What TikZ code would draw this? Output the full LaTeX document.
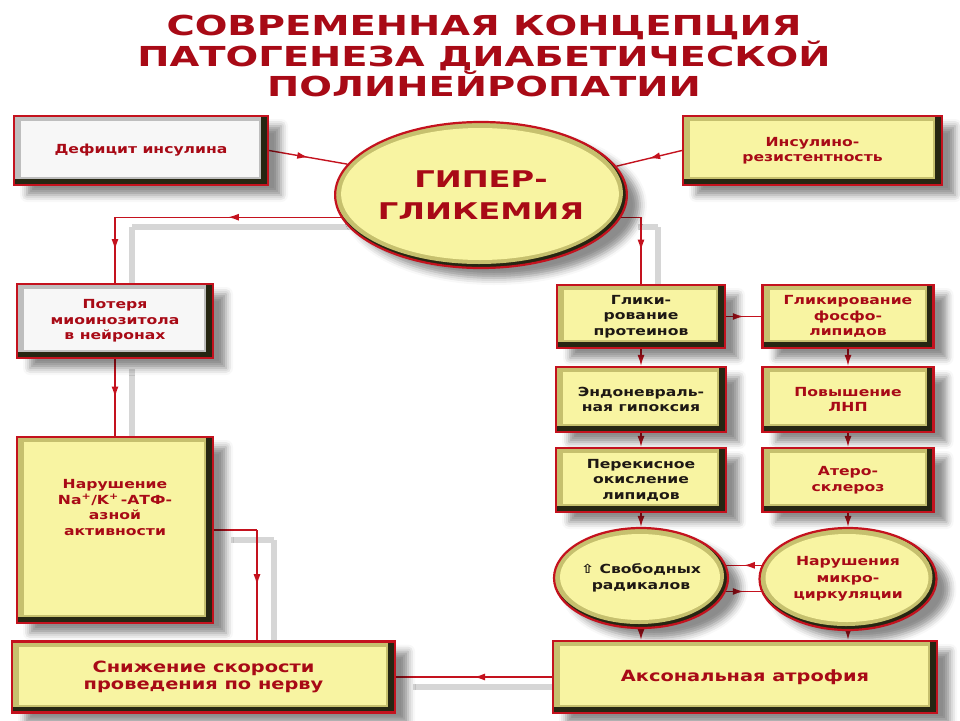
\documentclass[tikz,border=0pt]{standalone}
\usepackage{fontspec}
\newfontfamily\diafont{DejaVu Sans}[FakeStretch=1.25]
\newfontfamily\titlefont{DejaVu Sans}[FakeStretch=1.4]
\usetikzlibrary{calc,shapes.geometric,arrows.meta,decorations.markings,shadows.blur}

\definecolor{diared}{RGB}{196,18,30}
\definecolor{textred}{RGB}{168,10,22}
\definecolor{textdark}{RGB}{30,24,20}
\definecolor{faceyellow}{RGB}{248,244,162}
\definecolor{bevolive}{RGB}{198,192,110}
\definecolor{bevdark}{RGB}{38,38,18}
\definecolor{facewhite}{RGB}{247,247,247}
\definecolor{bevgrey}{RGB}{190,190,190}
\definecolor{linkgrey}{RGB}{214,214,214}

\pgfdeclarelayer{linklayer}
\pgfsetlayers{linklayer,main}

\tikzset{
  bevel/.style 2 args={path picture={
      \fill[bevdark] (path picture bounding box.south west) rectangle (path picture bounding box.north east);
      \fill[#2] (path picture bounding box.north west) rectangle ([xshift=-7pt,yshift=6pt]path picture bounding box.south east);
      \fill[#1] ([xshift=7pt,yshift=-5pt]path picture bounding box.north west) rectangle ([xshift=-9pt,yshift=8pt]path picture bounding box.south east);
    }},
  shade/.style={blur shadow={shadow xshift=13pt,shadow yshift=-10pt,shadow blur radius=7pt,shadow opacity=45}},
  box/.style={rectangle, draw=diared, line width=2.2pt, align=center, inner sep=2pt, shade,
    bevel={faceyellow}{bevolive}, text=textred,
    font=\diafont\bfseries\fontsize{12.5}{15.5}\selectfont},
  whitebox/.style={box, bevel={facewhite}{bevgrey}},
  oval/.style={ellipse, draw=diared, line width=2.2pt, align=center, inner sep=0pt, shade, text=textred,
    font=\diafont\bfseries\fontsize{12.5}{16.5}\selectfont,
    path picture={
      \fill[bevdark] (path picture bounding box.south west) rectangle (path picture bounding box.north east);
      \fill[bevolive] let \p1=(path picture bounding box.south west), \p2=(path picture bounding box.north east) in
        ($(\p1)!0.5!(\p2)+(-2pt,2pt)$) ellipse [x radius={(\x2-\x1)/2-2pt}, y radius={(\y2-\y1)/2-2pt}];
      \fill[faceyellow] let \p1=(path picture bounding box.south west), \p2=(path picture bounding box.north east) in
        ($(\p1)!0.5!(\p2)+(-1pt,1pt)$) ellipse [x radius={(\x2-\x1)/2-7pt}, y radius={(\y2-\y1)/2-7pt}];
    }},
  link/.style={draw=diared, line width=1.4pt},
  longlink/.style={link,
    preaction={draw=linkgrey, line width=6pt, transform canvas={xshift=17pt,yshift=-10pt}}},
  tiparrow/.style={-{Latex[length=11pt,width=7pt]}},
  midarrow/.style={decoration={markings,
      mark=at position 0.5 with {\arrow[diared,line width=1.4pt]{Latex[length=11pt,width=7pt]}}},
    postaction={decorate}},
}

\begin{document}
\begin{tikzpicture}[x=1pt,y=-1pt]
  %%%%% START %%%%%
  \useasboundingbox (0,0) rectangle (960,720);

  \node[text=textred, align=center, font=\titlefont\bfseries\fontsize{27.5}{29}\selectfont] (title) at (484,56)
    {СОВРЕМЕННАЯ КОНЦЕПЦИЯ\\ПАТОГЕНЕЗА ДИАБЕТИЧЕСКОЙ\\ПОЛИНЕЙРОПАТИИ};

  % top row
  \node[whitebox, minimum width=254, minimum height=69] (def) at (141,150.5) {Дефицит инсулина};
  \node[box, minimum width=259, minimum height=69] (ins) at (812.5,150.5) {Инсулино-\\резистентность};
  \node[oval, minimum width=272, minimum height=146, font=\titlefont\bfseries\fontsize{23}{32}\selectfont] (hyp) at (481,195)
    {ГИПЕР-\\ГЛИКЕМИЯ};

  % left branch
  \node[whitebox, minimum width=196, minimum height=74] (pot) at (115,321) {Потеря\\миоинозитола\\в нейронах};
  \node[box, minimum width=196, minimum height=186] (nak) at (115,530)
    {Нарушение\\Na\textsuperscript{+}/K\textsuperscript{+}\,-АТФ-\\азной\\активности\\[30pt]\mbox{}};
  \node[box, minimum width=383, minimum height=71, font=\diafont\bfseries\fontsize{15.5}{17}\selectfont] (snizh) at (203.5,677)
    {Снижение скорости\\проведения по нерву};

  % right branch
  \node[box, minimum width=168, minimum height=63, text=textdark] (glp) at (641,316.5) {Глики-\\рование\\протеинов};
  \node[box, minimum width=171, minimum height=63] (glf) at (848,316.5) {Гликирование\\фосфо-\\липидов};
  \node[box, minimum width=170, minimum height=65, text=textdark] (endo) at (641,399.5) {Эндоневраль-\\ная гипоксия};
  \node[box, minimum width=171, minimum height=65] (ldl) at (848,399.5) {Повышение\\ЛНП};
  \node[box, minimum width=170, minimum height=64, text=textdark] (perox) at (641,480) {Перекисное\\окисление\\липидов};
  \node[box, minimum width=171, minimum height=64] (ather) at (848,480) {Атеро-\\склероз};
  \node[oval, minimum width=174, minimum height=100, text=textdark] (rad) at (641,578) {⇧ Свободных\\радикалов};
  \node[oval, minimum width=177, minimum height=102] (micro) at (848,579) {Нарушения\\микро-\\циркуляции};
  \node[box, minimum width=384, minimum height=72, font=\diafont\bfseries\fontsize{15.5}{17}\selectfont] (axon) at (745,677)
    {Аксональная атрофия};

  % connectors
  \begin{pgfonlayer}{linklayer}
  \draw[link,midarrow] (def.east) -- (hyp.167);
  \draw[link,midarrow] (ins.west) -- (hyp.12);

  \coordinate (hl) at (hyp.189 -| pot.north);
  \draw[longlink,midarrow] (hyp.189) -- (hl);
  \draw[longlink,midarrow] (hl) -- (pot.north);
  \draw[longlink,midarrow] (pot.south) -- (nak.north);
  \coordinate (nr) at (257,530);
  \draw[longlink] (nak.east) -- (nr);
  \draw[longlink,midarrow] (nr) -- (nr |- snizh.north);

  \coordinate (hr) at (hyp.351 -| glp.north);
  \draw[longlink] (hyp.351) -- (hr);
  \draw[longlink,midarrow] (hr) -- (glp.north);
  \draw[link,midarrow] (glp.east) -- (glf.west);

  \draw[link,tiparrow] (glp.south) -- (endo.north);
  \draw[link,tiparrow] (endo.south) -- (perox.north);
  \draw[link,tiparrow] (perox.south) -- (rad.north);
  \draw[link,tiparrow] (glf.south) -- (ldl.north);
  \draw[link,tiparrow] (ldl.south) -- (ather.north);
  \draw[link,tiparrow] (ather.south) -- (micro.north);
  \draw[link,midarrow] (micro.171) -- (rad.9 |- micro.171);
  \draw[link,midarrow] (rad.351) -- (micro.189 |- rad.351);
  \draw[link,tiparrow] (rad.south) -- (rad.south |- axon.north);
  \draw[link,tiparrow] (micro.south) -- (micro.south |- axon.north);
  \draw[longlink,midarrow] (axon.west) -- (snizh.east);
  \end{pgfonlayer}
  %%%%% END %%%%%
\end{tikzpicture}
\end{document}
